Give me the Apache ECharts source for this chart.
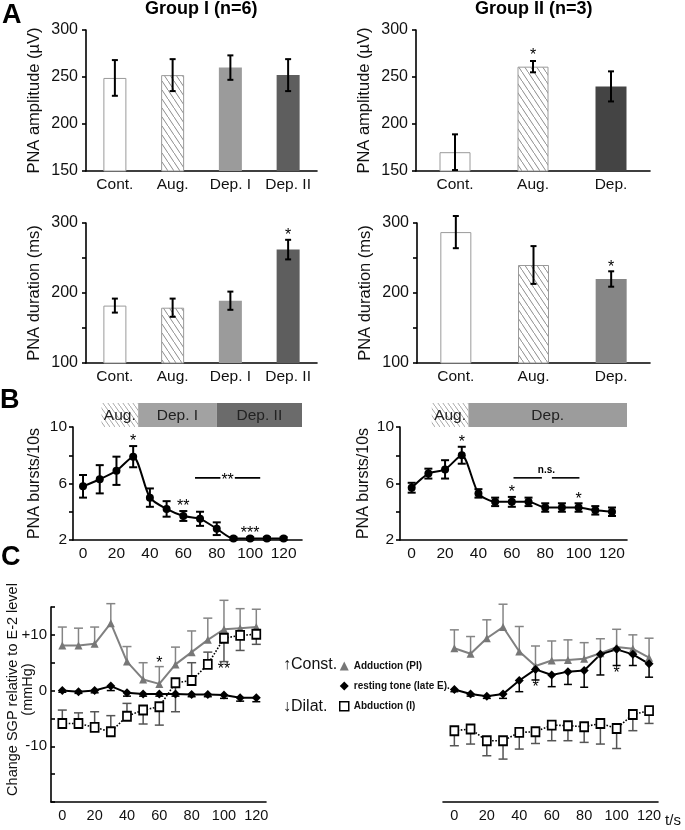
<!DOCTYPE html>
<html>
<head>
<meta charset="utf-8">
<script src="https://cdn.jsdelivr.net/npm/echarts@6/dist/echarts.min.js"></script>
<style>
  html, body { margin: 0; padding: 0; background: #fff; }
  #main { width: 685px; height: 830px; }
</style>
</head>
<body>
<div id="main"></div>
<script>
// ---- panel A: bar data (mean, sem) ----
var catsG1 = ['Cont.', 'Aug.', 'Dep. I', 'Dep. II'];
var catsG2 = ['Cont.', 'Aug.', 'Dep.'];
var ampG1 = [249, 252, 260, 252];
var ampG1Sem = [19, 17, 13, 17];
var ampG1Sig = ['', '', '', ''];
var ampG2 = [170, 261, 240];
var ampG2Sem = [19, 6, 16];
var ampG2Sig = ['', '*', ''];
var durG1 = [182, 179, 189, 262];
var durG1Sem = [10, 13, 13, 14];
var durG1Sig = ['', '', '', '*'];
var durG2 = [287, 240, 220];
var durG2Sem = [23, 27, 11];
var durG2Sig = ['', '', '*'];

// ---- panel B: bursts over time ----
var timeSec = [0, 10, 20, 30, 40, 50, 60, 70, 80, 90, 100, 110, 120];
var timeTicks = [0, 20, 40, 60, 80, 100, 120];
var burstsG1 = [5.8, 6.3, 6.9, 7.9, 5.0, 4.2, 3.7, 3.5, 2.8, 2.1, 2.1, 2.1, 2.1];
var burstsG1Sem = [0.8, 1.0, 1.0, 0.75, 0.65, 0.55, 0.35, 0.5, 0.45, 0.1, 0.1, 0.1, 0.1];
var burstsG1Sig = ['', '', '', '*', '', '', '**', '', '', '', '***', '', ''];
var burstsG2 = [5.7, 6.7, 7.0, 8.0, 5.3, 4.7, 4.7, 4.7, 4.3, 4.3, 4.3, 4.1, 4.0];
var burstsG2Sem = [0.35, 0.35, 0.65, 0.6, 0.3, 0.3, 0.35, 0.3, 0.3, 0.3, 0.3, 0.3, 0.3];
var burstsG2Sig = ['', '', '', '*', '', '', '*', '', '', '', '*', '', ''];

var phaseNamesG1 = ['Aug.', 'Dep. I', 'Dep. II'];
var phaseStartG1 = [11, 33, 80];
var phaseEndG1 = [33, 80, 131];
var phaseNamesG2 = ['Aug.', 'Dep.'];
var phaseStartG2 = [12, 34];
var phaseEndG2 = [34, 129];

var bracketG1 = [[67, 106]];
var bracketG1Text = '**';
var bracketG2 = [[61, 78], [84, 100.5]];
var bracketG2Text = 'n.s.';
var bracketLevel = 6.4;

// ---- panel C: SGP change (mmHg); *Bar = end of the error bar ----
var addG1 = [8.1, 8.1, 8.4, 12.1, 5.2, 2.0, 1.2, 4.7, 6.9, 9.1, 11.0, 11.2, 11.4];
var addG1Bar = [11.4, 11.2, 11.4, 15.6, 7.9, 5.0, 4.3, 7.8, 10.7, 13.0, 16.2, 14.7, 14.6];
var restG1 = [0.0, -0.2, 0.0, 0.8, -0.4, -0.6, -0.6, -0.6, -0.7, -0.7, -0.8, -1.3, -1.3];
var restG1Bar = [-0.3, -0.5, -0.4, 0.0, -1.0, -1.0, -1.0, -1.0, -1.1, -1.1, -1.4, -1.9, -2.0];
var abdG1 = [-5.9, -5.9, -6.6, -7.4, -4.6, -3.5, -2.9, 1.4, 1.8, 4.7, 9.4, 9.9, 10.1];
var abdG1Bar = [-3.5, -4.0, -3.8, -4.5, -2.3, -6.0, -6.2, -3.8, 5.0, 6.9, 5.2, 7.2, 8.3];
var starsG1 = [[60, 5.4], [100, 4.3]];
var starsG1Text = ['*', '**'];

var addG2 = [7.6, 6.6, 9.4, 11.4, 7.0, 4.4, 5.4, 5.5, 5.7, 6.7, 7.8, 7.5, 5.9];
var addG2Bar = [10.9, 9.7, 12.7, 15.5, 11.5, 8.0, 8.9, 9.1, 8.6, 9.3, 11.0, 10.0, 9.4];
var restG2 = [0.2, -0.6, -1.0, -0.6, 1.8, 3.8, 2.8, 3.4, 3.6, 6.5, 7.4, 6.5, 4.8];
var restG2Bar = [-0.2, -1.0, -1.4, -1.4, -0.2, 1.9, 0.7, 1.1, 0.6, 2.8, 4.5, 4.5, 2.4];
var abdG2 = [-7.2, -6.9, -9.0, -9.0, -7.5, -7.4, -6.2, -6.3, -6.5, -5.9, -6.8, -4.3, -3.6];
var abdG2Bar = [-9.9, -9.6, -11.7, -12.3, -10.5, -9.5, -9.0, -9.0, -9.3, -9.6, -10.4, -7.2, -5.9];
var starsG2 = [[50, 1.15], [100, 3.5]];
var starsG2Text = ['*', '*'];

var FONT = "'Liberation Sans', Arial, 'DejaVu Sans', sans-serif";
var AX = { color: '#000', width: 1.6 };

// diagonal hatch tile
function hatch(w, h, stroke, lw) {
  var c = document.createElement('canvas');
  c.width = w; c.height = h;
  var g = c.getContext('2d');
  g.fillStyle = '#fff';
  g.fillRect(0, 0, w, h);
  g.strokeStyle = stroke;
  g.lineWidth = lw;
  g.beginPath();
  g.moveTo(-w, -h); g.lineTo(2 * w, 2 * h);
  g.stroke();
  return { image: c, repeat: 'repeat' };
}
var hatchBar = hatch(6, 9, '#8c8c8c', 1);
var hatchPhase = hatch(5, 7, '#a8a8a8', 1);

var whiteBar = { color: '#fff', borderColor: '#9a9a9a', borderWidth: 1 };
var hatchedBar = { color: hatchBar, borderColor: '#9a9a9a', borderWidth: 1 };
var fillG1 = [whiteBar, hatchedBar, { color: '#9b9b9b' }, { color: '#5e5e5e' }];
var fillG2Amp = [whiteBar, hatchedBar, { color: '#444' }];
var fillG2Dur = [whiteBar, hatchedBar, { color: '#868686' }];
var fillPhaseG1 = [hatchPhase, '#a2a2a2', '#6b6b6b'];
var fillPhaseG2 = [hatchPhase, '#9c9c9c'];

function symRows(vals, sem, xs) {
  return vals.map(function (v, i) { return [xs ? xs[i] : i, v - sem[i], v + sem[i]]; });
}
function endRows(vals, ends) {
  return vals.map(function (v, i) { return [timeSec[i], v, ends[i]]; });
}

function errSeries(ax, rows, opt) {
  return {
    type: 'custom', xAxisIndex: ax, yAxisIndex: ax, z: 3, silent: true,
    data: rows,
    renderItem: function (params, api) {
      var x = api.value(0);
      var p0 = api.coord([x, api.value(1)]);
      var p1 = api.coord([x, api.value(2)]);
      var h = opt.cap / 2;
      var st = { stroke: opt.color, lineWidth: opt.width };
      var kids = [
        { type: 'line', shape: { x1: p0[0], y1: p0[1], x2: p1[0], y2: p1[1] }, style: st },
        { type: 'line', shape: { x1: p1[0] - h, y1: p1[1], x2: p1[0] + h, y2: p1[1] }, style: st }
      ];
      if (opt.both) {
        kids.push({ type: 'line', shape: { x1: p0[0] - h, y1: p0[1], x2: p0[0] + h, y2: p0[1] }, style: st });
      }
      var lab = opt.labels && opt.labels[params.dataIndex];
      if (lab) {
        kids.push({
          type: 'text', x: p1[0], y: Math.min(p0[1], p1[1]) - opt.gap,
          style: { text: lab, fill: '#000', fontSize: 16, fontFamily: FONT, align: 'center', verticalAlign: 'middle' }
        });
      }
      return { type: 'group', children: kids };
    }
  };
}

function barSeries(ax, vals, fills, width) {
  return {
    type: 'bar', xAxisIndex: ax, yAxisIndex: ax, barWidth: width, z: 2,
    data: vals.map(function (v, i) { return { value: v, itemStyle: fills[i] }; })
  };
}

function phaseSeries(ax, names, starts, ends, fills) {
  return {
    type: 'custom', xAxisIndex: ax, yAxisIndex: ax, silent: true,
    data: starts.map(function (s, i) { return [s, ends[i]]; }),
    renderItem: function (params, api) {
      var a = api.coord([api.value(0), 1]);
      var b = api.coord([api.value(1), 0]);
      var i = params.dataIndex;
      return {
        type: 'group', children: [
          { type: 'rect', shape: { x: a[0], y: a[1], width: b[0] - a[0], height: b[1] - a[1] }, style: { fill: fills[i] } },
          { type: 'text', x: (a[0] + b[0]) / 2, y: (a[1] + b[1]) / 2 + 1,
            style: { text: names[i], fill: '#222', fontSize: 15.5, fontFamily: FONT, align: 'center', verticalAlign: 'middle' } }
        ]
      };
    }
  };
}

function bracketSeries(ax, segs, text, small) {
  return {
    type: 'custom', xAxisIndex: ax, yAxisIndex: ax, silent: true,
    data: [[bracketLevel]],
    renderItem: function (params, api) {
      var kids = segs.map(function (s) {
        var a = api.coord([s[0], bracketLevel]);
        var b = api.coord([s[1], bracketLevel]);
        return { type: 'line', shape: { x1: a[0], y1: a[1], x2: b[0], y2: b[1] }, style: { stroke: '#000', lineWidth: 1.6 } };
      });
      var m = api.coord([(segs[0][0] + segs[segs.length - 1][1]) / 2, bracketLevel]);
      kids.push({
        type: 'text', x: m[0], y: small ? m[1] - 8 : m[1] + 3, z2: 5,
        style: small
          ? { text: text, fill: '#000', fontSize: 10, fontWeight: 'bold', fontFamily: FONT, align: 'center', verticalAlign: 'middle' }
          : { text: text, fill: '#000', fontSize: 16, fontFamily: FONT, align: 'center', verticalAlign: 'middle', backgroundColor: '#fff', padding: [0, 1] }
      });
      return { type: 'group', children: kids };
    }
  };
}

function starSeries(ax, pts, texts) {
  return {
    type: 'custom', xAxisIndex: ax, yAxisIndex: ax, silent: true, z: 5,
    data: pts,
    renderItem: function (params, api) {
      var p = api.coord([api.value(0), api.value(1)]);
      return { type: 'text', x: p[0], y: p[1] + 3,
        style: { text: texts[params.dataIndex], fill: '#000', fontSize: 16, fontFamily: FONT, align: 'center', verticalAlign: 'middle' } };
    }
  };
}

function catX(g, cats) {
  return {
    gridIndex: g, type: 'category', data: cats,
    axisLine: { lineStyle: AX }, axisTick: { show: false },
    axisLabel: { interval: 0, margin: 6, fontSize: 15.5, color: '#111', fontFamily: FONT }
  };
}
function barY(g, min, max, step, name) {
  return {
    gridIndex: g, type: 'value', min: min, max: max, interval: 50,
    name: name, nameLocation: 'middle', nameGap: 43, nameMoveOverlap: false,
    nameTextStyle: { fontSize: 16.5, color: '#111', fontFamily: FONT },
    splitLine: { show: false },
    axisLine: { show: true, onZero: false, lineStyle: AX },
    axisTick: { show: true, length: 4, lineStyle: AX },
    axisLabel: { margin: 8, fontSize: 16, color: '#111', fontFamily: FONT,
      formatter: function (v) { return (v - min) % step === 0 ? v : ''; } }
  };
}
function timeX(g, min, max, size, extra) {
  var a = {
    gridIndex: g, type: 'value', min: min, max: max,
    splitLine: { show: false },
    axisLine: { onZero: false, lineStyle: AX }, axisTick: { show: false },
    axisLabel: { customValues: timeTicks, margin: 6, fontSize: size, color: '#111', fontFamily: FONT }
  };
  return Object.assign(a, extra || {});
}
function hiddenAxis(g, min, max) {
  return { gridIndex: g, type: 'value', min: min, max: max, show: false, splitLine: { show: false } };
}
function burstY(g, gap) {
  return {
    gridIndex: g, type: 'value', min: 2, max: 10, interval: 2,
    name: 'PNA bursts/10s', nameLocation: 'middle', nameGap: gap, nameMoveOverlap: false,
    nameTextStyle: { fontSize: 16, color: '#111', fontFamily: FONT },
    splitLine: { show: false },
    axisLine: { show: true, onZero: false, lineStyle: AX },
    axisTick: { show: true, length: 4, lineStyle: AX },
    axisLabel: { margin: 6, fontSize: 15.5, color: '#111', fontFamily: FONT,
      formatter: function (v) { return (v - 2) % 4 === 0 ? v : ''; } }
  };
}
function sgpY(g, show) {
  return {
    gridIndex: g, type: 'value', min: -20, max: 15, interval: 5, show: show,
    name: 'Change SGP relative to E-2 level\n(mmHg)', nameLocation: 'middle', nameGap: 16, nameMoveOverlap: false,
    nameTextStyle: { fontSize: 14.5, color: '#111', fontFamily: FONT, lineHeight: 15, padding: [0, 0, 0, 30] },
    splitLine: { show: false },
    axisLine: { show: true, onZero: false, lineStyle: AX },
    axisTick: { show: true, inside: true, length: 4, lineStyle: AX },
    axisLabel: { margin: 4, fontSize: 15, color: '#111', fontFamily: FONT,
      formatter: function (v) { return v === 10 ? '+10' : (v === 0 || v === -10 ? String(v) : ''); } }
  };
}

function burstLine(ax, vals) {
  return {
    type: 'line', xAxisIndex: ax, yAxisIndex: ax, z: 4, smooth: 0.25,
    data: vals.map(function (v, i) { return [timeSec[i], v]; }),
    symbol: 'circle', symbolSize: 8,
    lineStyle: { color: '#000', width: 2 }, itemStyle: { color: '#000' }
  };
}

var ADD = { name: 'Adduction (PI)', symbol: 'triangle', symbolSize: 8,
  lineStyle: { color: '#808080', width: 2 }, itemStyle: { color: '#777' } };
var REST = { name: 'resting tone (late E).', symbol: 'diamond', symbolSize: 9,
  lineStyle: { color: '#000', width: 2 }, itemStyle: { color: '#000' } };
var ABD = { name: 'Abduction (I)', symbol: 'rect', symbolSize: [8, 9],
  lineStyle: { color: '#000', width: 1.6, type: 'dotted' },
  itemStyle: { color: '#fff', borderColor: '#000', borderWidth: 1.8 } };

function sgpLine(ax, vals, look) {
  return Object.assign({
    type: 'line', xAxisIndex: ax, yAxisIndex: ax, z: 4,
    data: vals.map(function (v, i) { return [timeSec[i], v]; })
  }, look);
}

function grid(left, top, width, height) {
  return { left: left, top: top, width: width, height: height, containLabel: false, outerBoundsMode: 'none' };
}

var option = {
  animation: false,
  backgroundColor: '#fff',
  textStyle: { fontFamily: FONT },
  title: [
    { text: 'A', left: 2, top: 2, padding: 0, textStyle: { fontSize: 27, fontWeight: 'bold', color: '#000', fontFamily: FONT } },
    { text: 'B', left: 0, top: 387, padding: 0, textStyle: { fontSize: 27, fontWeight: 'bold', color: '#000', fontFamily: FONT } },
    { text: 'C', left: 1, top: 544, padding: 0, textStyle: { fontSize: 27, fontWeight: 'bold', color: '#000', fontFamily: FONT } },
    { text: 'Group I (n=6)', left: 145, top: 0, padding: 0, textStyle: { fontSize: 18, fontWeight: 'bold', color: '#000', fontFamily: FONT } },
    { text: 'Group II (n=3)', left: 475, top: 0, padding: 0, textStyle: { fontSize: 18, fontWeight: 'bold', color: '#000', fontFamily: FONT } },
    { text: '\u2191Const.', left: 283, top: 657, padding: 0, textStyle: { fontSize: 16, fontWeight: 'normal', color: '#111', fontFamily: FONT } },
    { text: '\u2193Dilat.', left: 283, top: 699, padding: 0, textStyle: { fontSize: 16, fontWeight: 'normal', color: '#111', fontFamily: FONT } }
  ],
  legend: {
    orient: 'vertical', left: 339, top: 661, itemWidth: 9, itemHeight: 9, itemGap: 10,
    selectedMode: false, padding: 0,
    textStyle: { fontSize: 10, fontWeight: 'bold', color: '#111', fontFamily: FONT },
    data: [
      { name: 'Adduction (PI)', icon: 'triangle', itemStyle: { color: '#777' } },
      { name: 'resting tone (late E).', icon: 'diamond', itemStyle: { color: '#000' } },
      { name: 'Abduction (I)', icon: 'rect', itemStyle: { color: '#fff', borderColor: '#000', borderWidth: 1.5 } }
    ]
  },
  grid: [
    grid(86, 30, 231, 141),
    grid(416, 30, 234, 141),
    grid(86, 223, 231, 140),
    grid(417, 223, 233, 140),
    grid(73, 427, 229, 113),
    grid(73, 403, 229, 24),
    grid(400, 427, 227, 113),
    grid(400, 403, 227, 24),
    grid(51, 607, 215, 195),
    grid(443, 607, 215, 195)
  ],
  xAxis: [
    catX(0, catsG1), catX(1, catsG2), catX(2, catsG1), catX(3, catsG2),
    timeX(4, -6, 131, 15.5), hiddenAxis(5, -6, 131),
    timeX(6, -7, 129, 15.5), hiddenAxis(7, -7, 129),
    timeX(8, -7, 126, 14.5),
    timeX(9, -7, 125.5, 14.5, { name: 't/s', nameLocation: 'end', nameGap: 4,
      nameTextStyle: { fontSize: 15, color: '#111', fontFamily: FONT, verticalAlign: 'top', padding: [11, 0, 0, 0] } })
  ],
  yAxis: [
    barY(0, 150, 300, 50, 'PNA amplitude (\u00b5V)'),
    barY(1, 150, 300, 50, 'PNA amplitude (\u00b5V)'),
    barY(2, 100, 300, 100, 'PNA duration (ms)'),
    barY(3, 100, 300, 100, 'PNA duration (ms)'),
    burstY(4, 30), hiddenAxis(5, 0, 1),
    burstY(6, 28), hiddenAxis(7, 0, 1),
    sgpY(8, true), sgpY(9, false)
  ],
  series: [
    barSeries(0, ampG1, fillG1, 23),
    errSeries(0, symRows(ampG1, ampG1Sem), { color: '#000', width: 2, cap: 6, both: true, labels: ampG1Sig, gap: 5 }),
    barSeries(1, ampG2, fillG2Amp, 31),
    errSeries(1, symRows(ampG2, ampG2Sem), { color: '#000', width: 2, cap: 6, both: true, labels: ampG2Sig, gap: 5 }),
    barSeries(2, durG1, fillG1, 23),
    errSeries(2, symRows(durG1, durG1Sem), { color: '#000', width: 2, cap: 6, both: true, labels: durG1Sig, gap: 4 }),
    barSeries(3, durG2, fillG2Dur, 31),
    errSeries(3, symRows(durG2, durG2Sem), { color: '#000', width: 2, cap: 6, both: true, labels: durG2Sig, gap: 4 }),

    phaseSeries(5, phaseNamesG1, phaseStartG1, phaseEndG1, fillPhaseG1),
    burstLine(4, burstsG1),
    errSeries(4, symRows(burstsG1, burstsG1Sem, timeSec), { color: '#000', width: 2, cap: 8, both: true, labels: burstsG1Sig, gap: 4 }),
    bracketSeries(4, bracketG1, bracketG1Text, false),
    phaseSeries(7, phaseNamesG2, phaseStartG2, phaseEndG2, fillPhaseG2),
    burstLine(6, burstsG2),
    errSeries(6, symRows(burstsG2, burstsG2Sem, timeSec), { color: '#000', width: 2, cap: 8, both: true, labels: burstsG2Sig, gap: 4 }),
    bracketSeries(6, bracketG2, bracketG2Text, true),

    errSeries(8, endRows(addG1, addG1Bar), { color: '#858585', width: 1.5, cap: 9 }),
    errSeries(8, endRows(restG1, restG1Bar), { color: '#000', width: 1.5, cap: 8 }),
    errSeries(8, endRows(abdG1, abdG1Bar), { color: '#555', width: 1.5, cap: 9 }),
    sgpLine(8, addG1, ADD),
    sgpLine(8, restG1, REST),
    sgpLine(8, abdG1, ABD),
    starSeries(8, starsG1, starsG1Text),

    errSeries(9, endRows(addG2, addG2Bar), { color: '#858585', width: 1.5, cap: 9 }),
    errSeries(9, endRows(restG2, restG2Bar), { color: '#000', width: 1.5, cap: 8 }),
    errSeries(9, endRows(abdG2, abdG2Bar), { color: '#555', width: 1.5, cap: 9 }),
    sgpLine(9, addG2, ADD),
    sgpLine(9, restG2, REST),
    sgpLine(9, abdG2, ABD),
    starSeries(9, starsG2, starsG2Text)
  ]
};

var chart = echarts.init(document.getElementById('main'));
chart.setOption(option);
</script>
</body>
</html>
